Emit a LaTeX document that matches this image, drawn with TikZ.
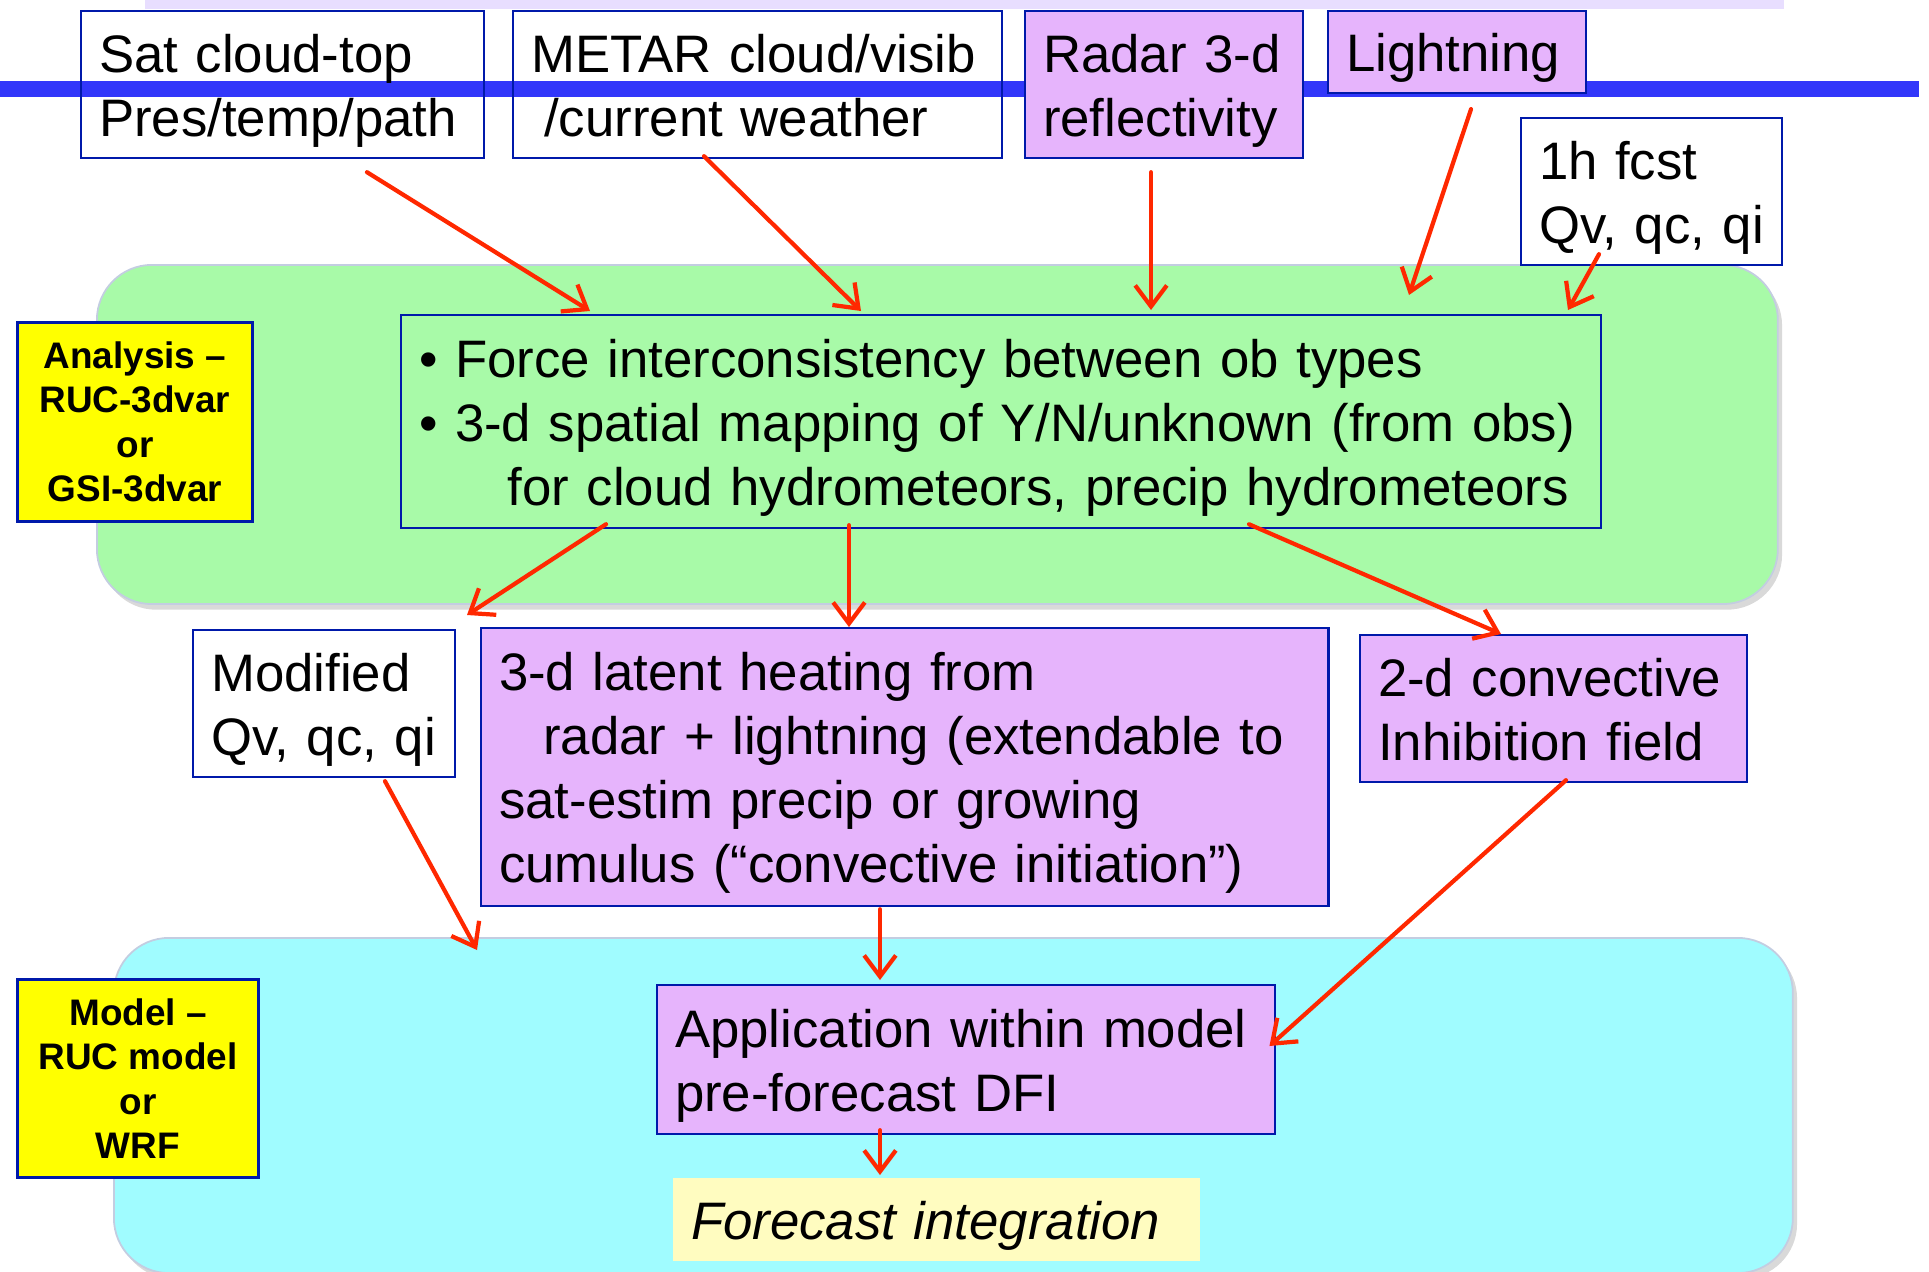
\documentclass[tikz,border=0pt]{standalone}
\usepackage{fontspec}
\setmainfont{Liberation Sans}
\usetikzlibrary{arrows.meta,shadows}

\definecolor{boxblue}{RGB}{0,25,170}
\definecolor{lineblue}{RGB}{50,55,250}
\definecolor{stripviolet}{RGB}{232,222,255}
\definecolor{lavender}{RGB}{230,180,252}
\definecolor{analgreen}{RGB}{168,250,168}
\definecolor{modelcyan}{RGB}{160,252,255}
\definecolor{zoneedge}{RGB}{195,205,225}
\definecolor{tagyellow}{RGB}{255,255,0}
\definecolor{paleyellow}{RGB}{255,252,192}
\definecolor{arrowred}{RGB}{255,40,0}

\newcommand{\boxfont}{\fontsize{15}{18.2}\selectfont}
\newcommand{\tagfont}{\fontsize{10.5}{12.6}\selectfont\bfseries}

\begin{document}
\begin{tikzpicture}[x=0.01cm, y=-0.01cm,
  obox/.style={draw=boxblue, line width=0.6pt, anchor=north west, inner xsep=0.18cm, inner ysep=0pt,
    text height=14.2pt, align=left, font=\boxfont},
  pbox/.style={obox, fill=lavender},
  ybox/.style={draw=boxblue, line width=0.8pt, fill=tagyellow, anchor=north west, inner sep=0pt, align=center, font=\tagfont},
  zone/.style={draw=zoneedge, line width=0.5pt, rounded corners=0.55cm, anchor=north west, inner sep=0pt,
    drop shadow={shadow xshift=1.2pt, shadow yshift=-1.6pt, opacity=0.3}},
  arr/.style={draw=arrowred, line width=1.2pt, line cap=round, -{Straight Barb[length=6pt,width=9pt]}}
]
\useasboundingbox (0,0) rectangle (1929,1272);

% background bands
\fill[stripviolet] (145,0) rectangle (1784,9);
\node[zone, fill=analgreen, minimum width=16.80cm, minimum height=3.39cm] (anzone) at (96,264) {};
\node[zone, fill=modelcyan, minimum width=16.78cm, minimum height=3.35cm] (mdzone) at (113,937) {};
\draw[lineblue, line width=0.16cm] (0,89) -- (1919,89);

% observation inputs
\node[obox, minimum width=4.03cm, minimum height=1.47cm, text width=3.67cm] (sat) at (80,10)
  {Sat cloud-top\\Pres/temp/path};
\node[obox, minimum width=4.89cm, minimum height=1.47cm, text width=4.53cm] (metar) at (512,10)
  {METAR cloud/visib\\\hspace*{0.25em}/current weather\vphantom{p}};
\node[pbox, minimum width=2.78cm, minimum height=1.47cm, text width=2.42cm] (radar) at (1024,10)
  {Radar 3-d\\reflectivity};
\node[pbox, minimum width=2.58cm, minimum height=0.82cm, text width=2.22cm] (light) at (1327,10)
  {Lightning};
\node[obox, fill=white, minimum width=2.61cm, minimum height=1.47cm, text width=2.25cm] (fcst) at (1520,117)
  {1h fcst\\Qv, qc, qi};

% analysis step
\node[ybox, minimum width=2.35cm, minimum height=1.99cm] (anal) at (16,321)
  {Analysis –\\RUC-3dvar\\or\\GSI-3dvar};
\node[obox, minimum width=11.99cm, minimum height=2.13cm, text width=11.63cm] (core) at (400,314)
  {• Force interconsistency between ob types\\
   • 3-d spatial mapping of Y/N/unknown (from obs)\\
   \hspace*{1.68em}for cloud hydrometeors, precip hydrometeors};

% analysis outputs
\node[obox, minimum width=2.62cm, minimum height=1.47cm, text width=2.26cm] (modq) at (192,629)
  {Modified\\Qv, qc, qi};
\node[pbox, minimum width=8.47cm, minimum height=2.78cm, text width=8.11cm] (latent) at (480,627)
  {3-d latent heating from\\
   \hspace*{0.84em}radar + lightning (extendable to\\
   sat-estim precip or growing\\
   cumulus (“convective initiation”)};
\node[pbox, minimum width=3.87cm, minimum height=1.47cm, text width=3.51cm] (cin) at (1359,634)
  {2-d convective\\Inhibition field\vphantom{p}};

% model step
\node[ybox, minimum width=2.41cm, minimum height=1.98cm] (modl) at (16,978)
  {Model –\\RUC model\\or\\WRF};
\node[pbox, minimum width=6.18cm, minimum height=1.49cm, text width=5.82cm] (apply) at (656,984)
  {Application within model\\pre-forecast DFI};
\node[obox, draw=none, fill=paleyellow, minimum width=5.27cm, minimum height=0.83cm, text width=4.91cm,
  font=\boxfont\itshape] (fint) at (672,1177) {Forecast integration};

% arrows
\draw[arr] ([shift={(287,13)}]sat.south west) -- ([shift={(190,-3)}]core.north west);
\draw[arr] ([shift={(192,-3)}]metar.south west) -- ([shift={(461,-3)}]core.north west);
\draw[arr] ([shift={(127,13)}]radar.south west) -- ([shift={(751,-4)}]core.north west);
\draw[arr] ([shift={(144,15)}]light.south west) -- ([shift={(1009,-19)}]core.north west);
\draw[arr] ([shift={(79,-12)}]fcst.south west) -- ([shift={(1168,-4)}]core.north west);

\draw[arr] ([shift={(206,-5)}]core.south west) -- ([shift={(275,-14)}]modq.north west);
\draw[arr] ([shift={(449,-4)}]core.south west) -- ([shift={(369,0)}]latent.north west);
\draw[arr] ([shift={(849,-5)}]core.south west) -- ([shift={(142,0)}]cin.north west);

\draw[arr] ([shift={(193,3)}]modq.south west) -- ([shift={(364,13)}]mdzone.north west);
\draw[arr] ([shift={(400,2)}]latent.south west) -- ([shift={(224,-4)}]apply.north west);
\draw[arr] ([shift={(207,-3)}]cin.south west) -- ([shift={(-7,62)}]apply.north east);
\draw[arr] ([shift={(224,-5)}]apply.south west) -- ([shift={(208,-2)}]fint.north west);

\end{tikzpicture}
\end{document}
